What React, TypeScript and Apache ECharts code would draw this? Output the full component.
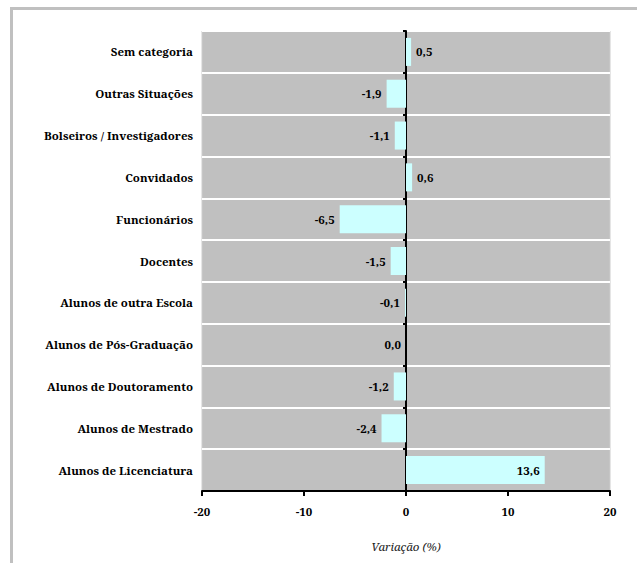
import React, { useEffect, useRef } from "react";
import * as echarts from "echarts";

const categories = [
  "Alunos de Licenciatura",
  "Alunos de Mestrado",
  "Alunos de Doutoramento",
  "Alunos de Pós-Graduação",
  "Alunos de outra Escola",
  "Docentes",
  "Funcionários",
  "Convidados",
  "Bolseiros / Investigadores",
  "Outras Situações",
  "Sem categoria",
];
const values = [13.6, -2.4, -1.2, 0.0, -0.1, -1.5, -6.5, 0.6, -1.1, -1.9, 0.5];
const xTicks = { min: -20, max: 20, interval: 10 };
const axisTitle = "Variação (%)";

const FONT = "Noto Serif";

export default function App() {
  const ref = useRef<HTMLDivElement>(null);
  useEffect(() => {
    if (!ref.current) return;
    const chart = echarts.init(ref.current, null, { renderer: "svg" });
    const data = values.map((v) => ({
      value: v,
      label: {
        position: v > 10 ? "insideRight" : v > 0 ? "right" : "left",
      },
    }));
    chart.setOption({
      animation: false,
      backgroundColor: "#ffffff",
      textStyle: { fontFamily: FONT },
      graphic: [
        { type: "rect", z: 100, shape: { x: 10, y: 7, width: 627, height: 3 }, style: { fill: "#c0c0c0" } },
        { type: "rect", z: 100, shape: { x: 10, y: 7, width: 3, height: 556 }, style: { fill: "#c0c0c0" } },
      ],
      grid: {
        left: 202,
        right: 27,
        top: 31,
        bottom: 72,
        show: true,
        backgroundColor: "#c0c0c0",
        borderColor: "#cccccc",
        borderWidth: 1,
      },
      xAxis: {
        type: "value",
        min: xTicks.min,
        max: xTicks.max,
        interval: xTicks.interval,
        axisLine: { show: true, lineStyle: { color: "#000", width: 2 } },
        axisTick: { show: true, length: 5, lineStyle: { color: "#000", width: 2 } },
        axisLabel: {
          fontFamily: FONT,
          fontWeight: "bold",
          fontSize: 11.5,
          color: "#000",
          margin: 14,
        },
        splitLine: { show: false },
        name: axisTitle,
        nameLocation: "middle",
        nameGap: 49,
        nameTextStyle: {
          fontFamily: FONT,
          fontStyle: "italic",
          fontSize: 11.5,
          color: "#222",
        },
      },
      yAxis: [
        {
          type: "category",
          data: categories,
          position: "left",
          axisLine: { show: false, onZero: false },
          axisTick: { show: false },
          axisLabel: {
            fontFamily: FONT,
            fontWeight: "bold",
            fontSize: 11.5,
            color: "#000",
            margin: 9,
          },
          splitLine: { show: true, lineStyle: { color: "#ffffff", width: 2 } },
        },
        {
          type: "category",
          data: categories,
          position: "left",
          axisLine: { show: true, onZero: true, lineStyle: { color: "#000", width: 2 } },
          axisTick: { show: true, length: 3, lineStyle: { color: "#000", width: 2 } },
          axisLabel: { show: false },
          splitLine: { show: false },
        },
      ],
      series: [
        {
          type: "bar",
          yAxisIndex: 0,
          data,
          barCategoryGap: "33%",
          itemStyle: { color: "#ccffff" },
          label: {
            show: true,
            distance: 5,
            fontFamily: FONT,
            fontWeight: "bold",
            fontSize: 11.5,
            color: "#000",
            formatter: (p: any) => Number(p.value).toFixed(1).replace(".", ","),
          },
        },
      ],
    });
    return () => chart.dispose();
  }, []);
  return (
    <div
      ref={ref}
      style={{ position: "fixed", left: 0, top: 0, width: 637, height: 563 }}
    />
  );
}
